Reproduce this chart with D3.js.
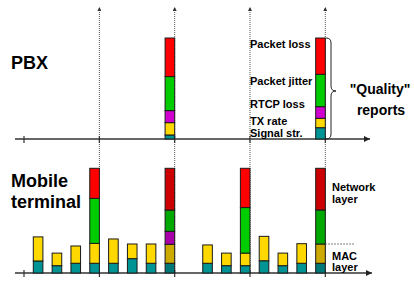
<!DOCTYPE html>
<html>
<head>
<meta charset="utf-8">
<title>Quality reports</title>
<style>
  body { margin: 0; background: #fff; }
  text { font-family: "Liberation Sans", Arial, sans-serif; font-weight: bold; fill: #000; }
</style>
<script src="https://cdn.jsdelivr.net/npm/d3@7"></script>
</head>
<body>
<script>
// time slots along the x axis (slot 8 has no report)
var slots = [0, 1, 2, 3, 4, 5, 6, 7, 8, 9, 10, 11, 12, 13, 14, 15];
var reportSlots = [3, 7, 11, 15];   // big reports, dotted arrows
var pbxSlots = [7, 15];             // reports seen at the PBX (dark at terminal)

// report parts, bottom to top
var parts = ["signal", "txrate", "rtcp", "jitter", "loss"];
var partLabels = ["Signal str.", "TX rate", "RTCP loss", "Packet jitter", "Packet loss"];

// mobile terminal, % of full report height
var termSignal = [11.5, 7, 9.3, 9.3, 9.3, 13.7, 9.3, 9.3, 0, 9.3, 7, 7, 11.7, 7, 9.3, 9.3];
var termTxRate = [23, 12, 16.5, 19, 23.2, 14, 18.4, 18.1, 0, 17.5, 12, 12, 23.3, 12, 18.7, 18.4];
var termRtcp   = [0, 0, 0, 0, 0, 0, 0, 12.4, 0, 0, 0, 0, 0, 0, 0, 0];
var termJitter = [0, 0, 0, 43, 0, 0, 0, 20.3, 0, 0, 0, 43.5, 0, 0, 0, 32.5];
var termLoss   = [0, 0, 0, 28.7, 0, 0, 0, 39.9, 0, 0, 0, 37.5, 0, 0, 0, 39.8];

// PBX
var pbxSignal = [4, 11.2];
var pbxTxRate = [12.2, 9.3];
var pbxRtcp   = [11.9, 11.5];
var pbxJitter = [33.7, 32.1];
var pbxLoss   = [38.2, 35.9];

var bright = { signal: "#009494", txrate: "#ffd800", rtcp: "#d000d0", jitter: "#00cc00", loss: "#ff0000" };
var dark   = { signal: "#007878", txrate: "#ccaa00", rtcp: "#aa00aa", jitter: "#00a800", loss: "#cc0000" };

var width = 414, height = 282;
var svg = d3.select("body").append("svg")
    .attr("width", width)
    .attr("height", height);

var defs = svg.append("defs");
defs.append("marker")
    .attr("id", "axisArrow")
    .attr("viewBox", "0 0 10 10")
    .attr("refX", 10).attr("refY", 5)
    .attr("markerWidth", 10).attr("markerHeight", 6)
    .attr("markerUnits", "userSpaceOnUse")
    .attr("orient", "auto")
    .append("path").attr("d", "M0,0 L10,5 L0,10 z").attr("fill", "#222");
defs.append("marker")
    .attr("id", "dotArrow")
    .attr("viewBox", "0 0 10 10")
    .attr("refX", 10).attr("refY", 5)
    .attr("markerWidth", 5).attr("markerHeight", 4)
    .attr("markerUnits", "userSpaceOnUse")
    .attr("orient", "auto")
    .append("path").attr("d", "M0,0 L10,5 L0,10 z").attr("fill", "#333");

// scales
var x = d3.scaleLinear().domain([0, 15]).range([33.3, 315.7]);
var barW = 9.6;
var yTop = d3.scaleLinear().domain([0, 100]).range([139, 38]);
var yBot = d3.scaleLinear().domain([0, 100]).range([273, 168.3]);

function stackRows(slotList, cols) {
    return slotList.map(function(s, i) {
        var row = { slot: s };
        parts.forEach(function(p, k) { row[p] = cols[k][i]; });
        return row;
    });
}

var termRows = stackRows(slots, [termSignal, termTxRate, termRtcp, termJitter, termLoss])
    .filter(function(d) { return d.signal > 0; });
var pbxRows = stackRows(pbxSlots, [pbxSignal, pbxTxRate, pbxRtcp, pbxJitter, pbxLoss]);

var stack = d3.stack().keys(parts);

// dotted report arrows
svg.append("g").selectAll("line")
    .data(reportSlots)
    .enter().append("line")
    .attr("x1", function(d) { return x(d) + barW; })
    .attr("x2", function(d) { return x(d) + barW; })
    .attr("y1", yBot(0))
    .attr("y2", 7)
    .attr("stroke", "#555")
    .attr("stroke-width", 1)
    .attr("stroke-dasharray", "1,1")
    .attr("marker-end", "url(#dotArrow)");

// axes
[yTop(0), yBot(0)].forEach(function(y0, i) {
    var g = svg.append("g");
    g.append("line")
        .attr("x1", 15).attr("x2", i === 0 ? 370 : 372)
        .attr("y1", y0).attr("y2", y0)
        .attr("stroke", "#333").attr("stroke-width", 1.5)
        .attr("marker-end", "url(#axisArrow)");
    var tickX = [24].concat(reportSlots.map(function(d) { return x(d) + barW; }));
    g.selectAll(".tick")
        .data(tickX)
        .enter().append("line")
        .attr("x1", function(d) { return d; })
        .attr("x2", function(d) { return d; })
        .attr("y1", y0 - 3).attr("y2", y0 + 4)
        .attr("stroke", "#333").attr("stroke-width", 1.2);
});

function drawBars(rows, y, colorFor) {
    var layers = stack(rows);
    svg.append("g").selectAll("g")
        .data(layers)
        .enter().append("g")
        .selectAll("rect")
        .data(function(layer) {
            return layer.map(function(d) { d.key = layer.key; return d; });
        })
        .enter().filter(function(d) { return d[1] - d[0] > 0; })
        .append("rect")
        .attr("x", function(d) { return x(d.data.slot); })
        .attr("width", barW)
        .attr("y", function(d) { return y(d[1]); })
        .attr("height", function(d) { return y(d[0]) - y(d[1]); })
        .attr("fill", function(d) { return colorFor(d); })
        .attr("stroke", "#1a1a1a")
        .attr("stroke-width", 1);
}

drawBars(termRows, yBot, function(d) {
    return pbxSlots.indexOf(d.data.slot) >= 0 ? dark[d.key] : bright[d.key];
});
drawBars(pbxRows, yTop, function(d) { return bright[d.key]; });

// panel titles
svg.append("text").attr("x", 11).attr("y", 69).style("font-size", "18px").text("PBX");
svg.append("text").attr("x", 11).attr("y", 187).style("font-size", "18px").text("Mobile");
svg.append("text").attr("x", 11).attr("y", 208).style("font-size", "18px").text("terminal");

// PBX part labels
var labelY = [136.5, 125, 108, 84.5, 48];
svg.append("g").selectAll("text")
    .data(partLabels)
    .enter().append("text")
    .attr("x", 250)
    .attr("y", function(d, i) { return labelY[i]; })
    .style("font-size", "11px")
    .text(function(d) { return d; });

// brace and "Quality" reports
svg.append("path")
    .attr("d", "M326,38 q5,0 5,5 L331,86 q0,5 5,5 q-5,0 -5,5 L331,134 q0,5 -5,5")
    .attr("fill", "none").attr("stroke", "#222").attr("stroke-width", 1);
svg.append("text").attr("x", 380).attr("y", 93.5).attr("text-anchor", "middle")
    .style("font-size", "14px").text("\"Quality\"");
svg.append("text").attr("x", 381).attr("y", 115).attr("text-anchor", "middle")
    .style("font-size", "14px").text("reports");

// terminal layer labels
var xr = x(15) + barW;
svg.append("line")
    .attr("x1", xr).attr("x2", 354)
    .attr("y1", yBot(termSignal[15] + termTxRate[15]))
    .attr("y2", yBot(termSignal[15] + termTxRate[15]))
    .attr("stroke", "#555").attr("stroke-width", 1).attr("stroke-dasharray", "1.5,1.5");
[["Network", 191.3], ["layer", 202.5], ["MAC", 259.7], ["layer", 270.5]].forEach(function(t) {
    svg.append("text").attr("x", 332).attr("y", t[1]).style("font-size", "11px").text(t[0]);
});
</script>
</body>
</html>
